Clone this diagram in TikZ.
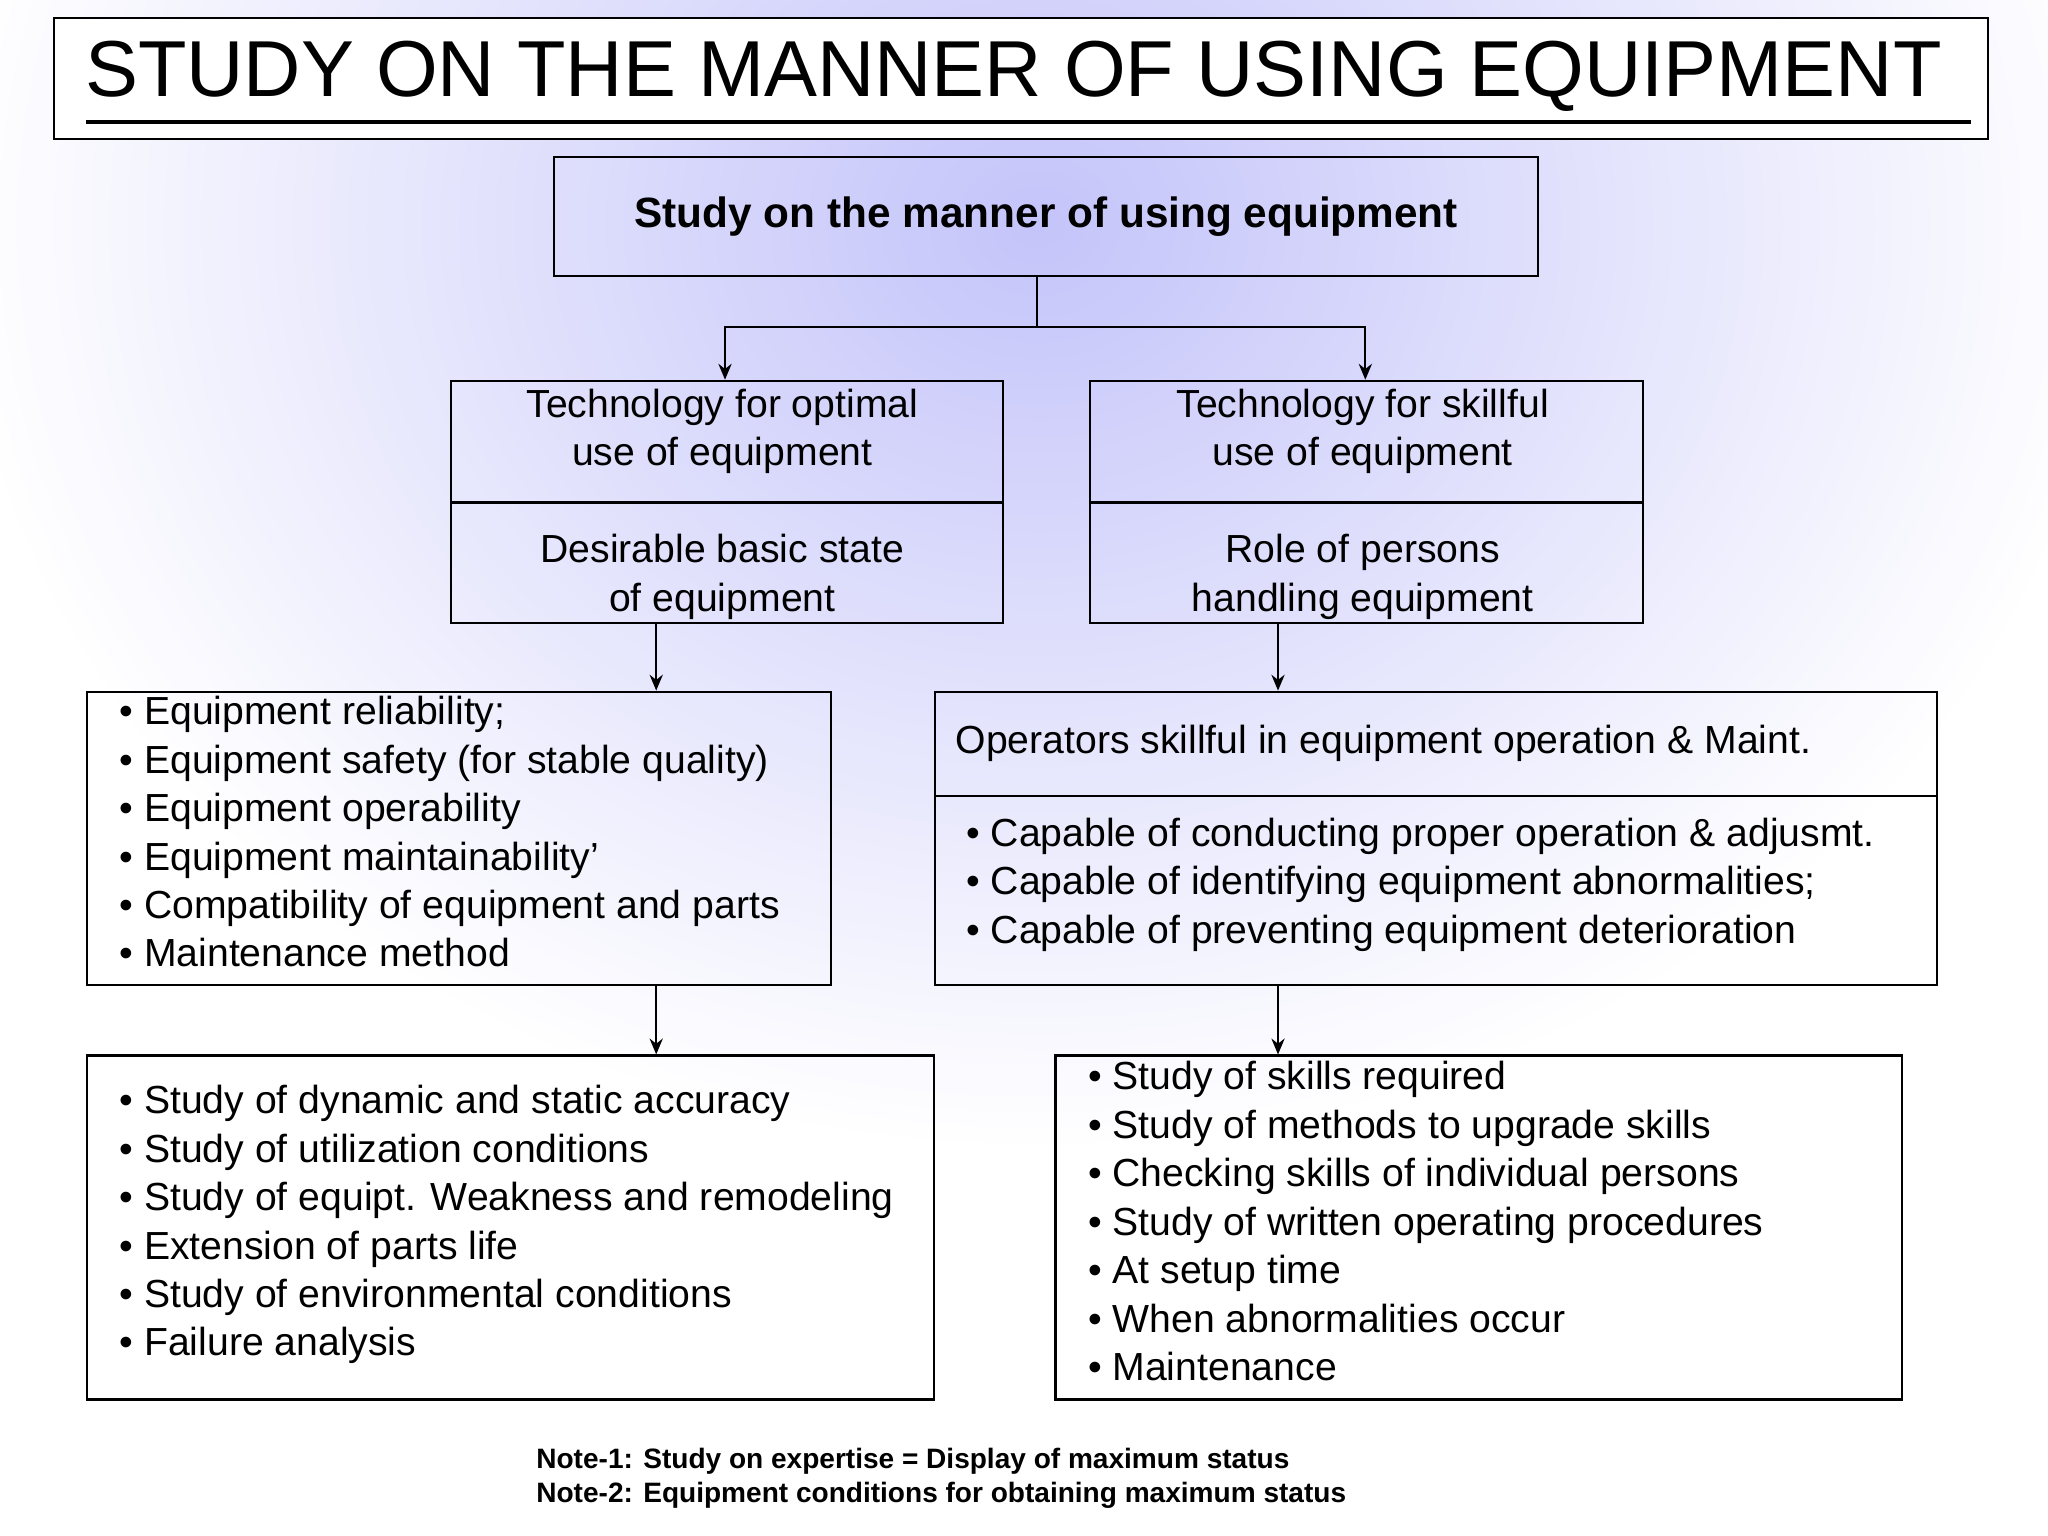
\documentclass[tikz,border=0pt]{standalone}
\usepackage{fontspec}
\setmainfont{Liberation Sans}
\usetikzlibrary{arrows.meta}
\definecolor{lav}{RGB}{196,196,250}
\begin{document}
\begin{tikzpicture}[x=0.5pt,y=-0.5pt,
  bx/.style={draw,line width=0.8pt},
  arr/.style={-{Stealth[length=6pt,width=5pt]},line width=0.8pt},
  body/.style={font=\fontsize{14.8}{18.3}\selectfont,align=left,inner sep=0pt},
  ctr/.style={font=\fontsize{14.8}{18.3}\selectfont,align=center,inner sep=0pt}]
\useasboundingbox (0,0) rectangle (1548,1161);
\begin{scope}
\clip (0,0) rectangle (1548,1161);
\fill[white] (0,0) rectangle (1548,1161);
\shade[inner color=lav,outer color=white] (784,170) ellipse (820 and 700);
\end{scope}
\node[bx,fill=white,minimum width=731pt,minimum height=45.5pt,anchor=north west,inner sep=0pt] (title) at (40,13) {};
\node[font=\fontsize{30}{34}\selectfont,inner sep=0pt] (tt) at (766,58) {STUDY ON THE MANNER OF USING EQUIPMENT};
\draw[line width=1.5pt] (65,92) -- (1490,92);
\node[bx,minimum width=372pt,minimum height=45pt,anchor=north west,inner sep=0pt] (top) at (418,118) {};
\node[font=\bfseries\fontsize{16}{18}\selectfont] at (top.center) {Study on the manner of using equipment};
% mid boxes
\node[bx,minimum width=208.5pt,minimum height=46pt,anchor=north west,inner sep=0pt] (l1) at (340,287) {};
\node[bx,minimum width=208.5pt,minimum height=45.5pt,anchor=north west,inner sep=0pt] (l2) at (340,379) {};
\node[ctr] at (546,326) {Technology for optimal\\use of equipment};
\node[ctr] at (546,436) {Desirable basic state\\of equipment};
\node[bx,minimum width=209pt,minimum height=46pt,anchor=north west,inner sep=0pt] (r1) at (823,287) {};
\node[bx,minimum width=209pt,minimum height=45.5pt,anchor=north west,inner sep=0pt] (r2) at (823,379) {};
\node[ctr] at (1030,326) {Technology for skillful\\use of equipment};
\node[ctr] at (1030,436) {Role of persons\\handling equipment};
\coordinate (j) at (784,247);
\draw[line width=0.8pt] (784,208) -- (j);
\draw[arr] (j) -| (548,287);
\draw[arr] (j) -| (1032,287);
% list boxes
\node[bx,minimum width=281pt,minimum height=111pt,anchor=north west,inner sep=0pt] (lb) at (65,522) {};
\node[body,anchor=north west] at (90,526) {• Equipment reliability;\\• Equipment safety (for stable quality)\\• Equipment operability\\• Equipment maintainability’\\• Compatibility of equipment and parts\\• Maintenance method};
\node[bx,minimum width=378.5pt,minimum height=39.5pt,anchor=north west,inner sep=0pt] (rb1) at (706,522) {};
\node[bx,minimum width=378.5pt,minimum height=71.5pt,anchor=north west,inner sep=0pt] (rb2) at (706,601) {};
\node[body,anchor=west] at (722,562) {Operators skillful in equipment operation \& Maint.};
\node[body,anchor=north west] at (730,618) {• Capable of conducting proper operation \& adjusmt.\\• Capable of identifying equipment abnormalities;\\• Capable of preventing equipment deterioration};
\draw[arr] (496,470) -- (496,522);
\draw[arr] (966,470) -- (966,522);
\draw[arr] (496,744) -- (496,797);
\draw[arr] (966,744) -- (966,797);
% bottom
\node[bx,minimum width=320pt,minimum height=130pt,anchor=north west,inner sep=0pt] (bl) at (65,797) {};
\node[body,anchor=north west] at (90,820) {• Study of dynamic and static accuracy\\• Study of utilization conditions\\• Study of equipt. Weakness and remodeling\\• Extension of parts life\\• Study of environmental conditions\\• Failure analysis};
\node[bx,minimum width=320pt,minimum height=130pt,anchor=north west,inner sep=0pt] (br) at (797,797) {};
\node[body,anchor=north west] at (822,802) {• Study of skills required\\• Study of methods to upgrade skills\\• Checking skills of individual persons\\• Study of written operating procedures\\• At setup time\\• When abnormalities occur\\• Maintenance};
\node[font=\bfseries\fontsize{10.6}{13}\selectfont,align=left,anchor=north west,inner sep=0pt] (notes) at (405,1094) {Note-1: Study on expertise = Display of maximum status\\Note-2: Equipment conditions for obtaining maximum status};
\end{tikzpicture}
\end{document}
